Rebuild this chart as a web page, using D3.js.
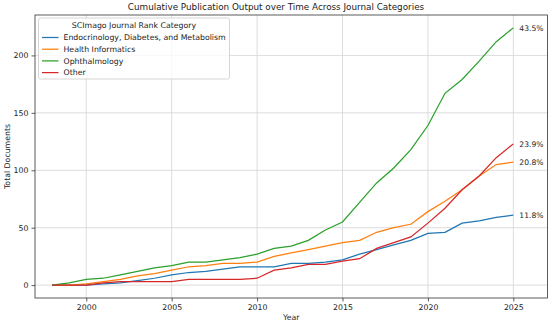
<!DOCTYPE html>
<html>
<head>
<meta charset="utf-8">
<script src="https://cdn.jsdelivr.net/npm/d3@7"></script>
<style>
  body { margin: 0; background: #fff; }
  text { font-family: "DejaVu Sans", sans-serif; fill: #222; }
</style>
</head>
<body>
<div id="chart"></div>
<script>
// data
const years = d3.range(1998, 2026);
const categories = ["Endocrinology, Diabetes, and Metabolism", "Health Informatics", "Ophthalmology", "Other"];
const endocrinology = [0,0,0,1,2,4,6,9,11,12,14,16,16,16,19,19,20,22,27,31,35,39,45,46,54,56,59,61];
const healthInformatics = [0,0,1,3,5,8,10,13,16,17,19,19,20,25,28,31,34,37,39,46,50,53,64,73,83,95,105,107];
const ophthalmology = [0,2,5,6,9,12,15,17,20,20,22,24,27,32,34,39,48,55,72,89,102,118,139,167,179,195,212,224];
const other = [0,0,0,2,3,3,3,3,5,5,5,5,6,13,15,18,18,21,23,32,37,42,54,67,83,95,111,123];
const xTicks = [2000, 2005, 2010, 2015, 2020, 2025];
const yTicks = [0, 50, 100, 150, 200];
const colors = ["#1f77b4", "#ff7f0e", "#2ca02c", "#d62728"];

const seriesList = [endocrinology, healthInformatics, ophthalmology, other];

const W = 550, H = 324;
const mL = 35, mR = 2.5, mT = 15, mB = 26;
const w = W - mL - mR, h = H - mT - mB;
const fs = "7.8px";

const svg = d3.select("#chart").append("svg")
  .attr("width", W)
  .attr("height", H);

const g = svg.append("g")
  .attr("transform", "translate(" + mL + "," + mT + ")");

const x = d3.scaleLinear().domain([1997, 2027]).range([0, w]);
const yMax = d3.max(ophthalmology);
const y = d3.scaleLinear().domain([-yMax * 0.05, yMax * 1.05]).range([h, 0]);

// grid
g.append("g")
  .selectAll("line.gx")
  .data(xTicks)
  .enter().append("line")
  .attr("x1", d => x(d)).attr("x2", d => x(d))
  .attr("y1", 0).attr("y2", h)
  .attr("stroke", "#d4d4d4").attr("stroke-width", 0.8);
g.append("g")
  .selectAll("line.gy")
  .data(yTicks)
  .enter().append("line")
  .attr("y1", d => y(d)).attr("y2", d => y(d))
  .attr("x1", 0).attr("x2", w)
  .attr("stroke", "#d4d4d4").attr("stroke-width", 0.8);

// axes
const xAxis = g.append("g")
  .attr("transform", "translate(0," + h + ")")
  .call(d3.axisBottom(x).tickValues(xTicks).tickFormat(d3.format("d")).tickSize(3.5).tickPadding(3));
const yAxis = g.append("g")
  .call(d3.axisLeft(y).tickValues(yTicks).tickSize(3.5).tickPadding(3));
[xAxis, yAxis].forEach(a => {
  a.select(".domain").remove();
  a.selectAll("line").attr("stroke", "#333").attr("stroke-width", 0.8);
  a.selectAll("text").style("font-family", "DejaVu Sans").style("font-size", fs).attr("fill", "#222");
});

// frame
g.append("rect")
  .attr("width", w).attr("height", h)
  .attr("fill", "none").attr("stroke", "#333").attr("stroke-width", 0.8);

// lines
const line = d3.line()
  .x((d, i) => x(years[i]))
  .y(d => y(d));

const total = d3.sum(seriesList, s => s[s.length - 1]);

seriesList.forEach((s, k) => {
  g.append("path")
    .datum(s)
    .attr("d", line)
    .attr("fill", "none")
    .attr("stroke", colors[k])
    .attr("stroke-width", 1.25);

  const last = s[s.length - 1];
  g.append("text")
    .attr("x", x(years[years.length - 1]) + 6)
    .attr("y", y(last))
    .attr("dy", "0.35em")
    .style("font-size", "7.6px")
    .text((last / total * 100).toFixed(1) + "%");
});

// title and axis labels
svg.append("text")
  .attr("x", 276).attr("y", 10)
  .attr("text-anchor", "middle")
  .style("font-size", "8.8px")
  .text("Cumulative Publication Output over Time Across Journal Categories");

svg.append("text")
  .attr("x", mL + w / 2).attr("y", 320)
  .attr("text-anchor", "middle")
  .style("font-size", fs)
  .text("Year");

svg.append("text")
  .attr("transform", "translate(9.5," + (mT + h / 2) + ") rotate(-90)")
  .attr("text-anchor", "middle")
  .style("font-size", fs)
  .text("Total Documents");

// legend
const lg = svg.append("g").attr("transform", "translate(38.5,18)");
lg.append("rect")
  .attr("width", 191).attr("height", 61).attr("rx", 2)
  .attr("fill", "#fff").attr("fill-opacity", 0.8)
  .attr("stroke", "#ccc").attr("stroke-width", 0.8);
lg.append("text")
  .attr("x", 95.5).attr("y", 10)
  .attr("text-anchor", "middle")
  .style("font-size", fs)
  .text("SCImago Journal Rank Category");
categories.forEach((c, k) => {
  const yy = 19.5 + k * 11.7;
  lg.append("line")
    .attr("x1", 3.5).attr("x2", 20)
    .attr("y1", yy).attr("y2", yy)
    .attr("stroke", colors[k]).attr("stroke-width", 1.25);
  lg.append("text")
    .attr("x", 25).attr("y", yy)
    .attr("dy", "0.35em")
    .style("font-size", fs)
    .text(c);
});
</script>
</body>
</html>
